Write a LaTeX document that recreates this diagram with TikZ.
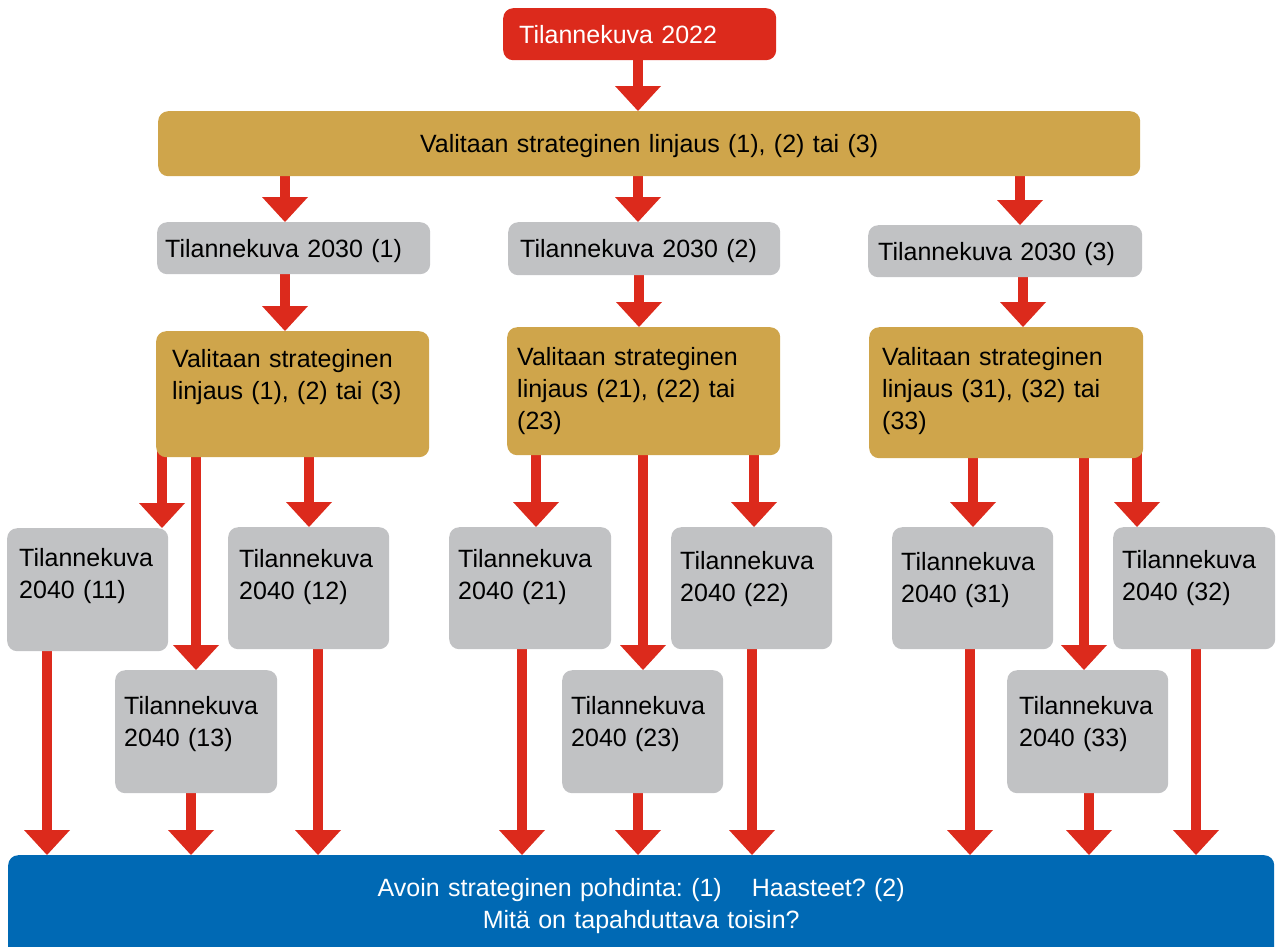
\documentclass[tikz,border=0pt]{standalone}
\usepackage{fontspec}
\setmainfont{Liberation Sans}
\usetikzlibrary{arrows.meta}
\pgfdeclarelayer{bg}
\pgfsetlayers{bg,main}
\definecolor{cred}{HTML}{DC2A1C}
\definecolor{cgold}{HTML}{CFA54B}
\definecolor{cgray}{HTML}{C1C2C4}
\definecolor{cblue}{HTML}{0069B4}
\frenchspacing
\newcommand\diagfont{\fontsize{25pt}{32pt}\selectfont\hyphenpenalty=10000\frenchspacing }
\begin{document}
\begin{tikzpicture}[x=1pt,y=-1pt,
  box/.style={anchor=north west, rounded corners=10pt, inner ysep=0pt, align=left, font=\diagfont, text=black},
  gold/.style={box, fill=cgold},
  gray/.style={box, fill=cgray},
  arr/.style={draw=cred, line width=10pt, line cap=butt, -{Triangle[width=46pt,length=25pt,line width=0pt]}}]
\useasboundingbox (0,0) rectangle (1276,946);
\clip (0,0) rectangle (1276,946);

\node[box, fill=cred, text=white, text width=241pt, inner xsep=16pt, text height=35pt, text depth=17pt] (red) at (503,8) {Tilannekuva 2022};
\node[gold, align=center, text width=962pt, inner xsep=10pt, text height=41pt, text depth=24pt] (bar) at (158,111) {Valitaan strateginen linjaus (1), (2) tai (3)};

\node[gray, text width=257pt, inner xsep=8pt, text height=35pt, text depth=17pt] (c1) at (157,222) {Tilannekuva 2030 (1)};
\node[gray, text width=248pt, inner xsep=12pt, text height=35pt, text depth=18pt] (c2) at (508,222) {Tilannekuva 2030 (2)};
\node[gray, text width=254pt, inner xsep=10pt, text height=35pt, text depth=17pt] (c3) at (868,225) {Tilannekuva 2030 (3)};

\node[gold, text width=241pt, inner xsep=16pt, text height=36pt, text depth=90pt] (g1) at (156,331) {Valitaan strateginen\\linjaus (1), (2) tai (3)};
\node[gold, text width=253pt, inner xsep=10pt, text height=38pt, text depth=90pt] (g2) at (507,327) {Valitaan strateginen\\linjaus (21), (22) tai\\(23)};
\node[gold, text width=248pt, inner xsep=13pt, text height=38pt, text depth=93pt] (g3) at (869,327) {Valitaan strateginen\\linjaus (31), (32) tai\\(33)};

\node[gray, text width=137pt, inner xsep=12pt, text height=38pt, text depth=85pt] (b11) at (7,528) {Tilannekuva\\2040 (11)};
\node[gray, text width=139pt, inner xsep=11pt, text height=40pt, text depth=82pt] (b12) at (228,527) {Tilannekuva\\2040 (12)};
\node[gray, text width=144pt, inner xsep=9pt, text height=44pt, text depth=79pt] (b13) at (115,670) {Tilannekuva\\2040 (13)};
\node[gray, text width=144pt, inner xsep=9pt, text height=40pt, text depth=82pt] (b21) at (449,527) {Tilannekuva\\2040 (21)};
\node[gray, text width=143pt, inner xsep=9pt, text height=42pt, text depth=80pt] (b22) at (671,527) {Tilannekuva\\2040 (22)};
\node[gray, text width=143pt, inner xsep=9pt, text height=44pt, text depth=79pt] (b23) at (562,670) {Tilannekuva\\2040 (23)};
\node[gray, text width=143pt, inner xsep=9pt, text height=43pt, text depth=79pt] (b31) at (892,527) {Tilannekuva\\2040 (31)};
\node[gray, text width=144pt, inner xsep=9pt, text height=41pt, text depth=81pt] (b32) at (1113,527) {Tilannekuva\\2040 (32)};
\node[gray, text width=137pt, inner xsep=12pt, text height=44pt, text depth=79pt] (b33) at (1007,670) {Tilannekuva\\2040 (33)};

\node[box, fill=cblue, text=white, align=center, text width=1246pt, inner xsep=10pt, text height=41pt, text depth=79pt] (blue) at (8,855) {Avoin strateginen pohdinta: (1)\hspace{30pt}Haasteet? (2)\\Mitä on tapahduttava toisin?};

\begin{pgfonlayer}{bg}
\draw[arr] (638,0 |- red.center) -- (638,0 |- bar.north);
\draw[arr] (285,0 |- bar.center) -- (285,0 |- c1.north);
\draw[arr] (638,0 |- bar.center) -- (638,0 |- c2.north);
\draw[arr] (1020,0 |- bar.center) -- (1020,0 |- c3.north);
\draw[arr] (285,0 |- c1.center) -- (285,0 |- g1.north);
\draw[arr] (639,0 |- c2.center) -- (639,0 |- g2.north);
\draw[arr] (1023,0 |- c3.center) -- (1023,0 |- g3.north);

\draw[arr] (162,0 |- g1.center) -- (162,0 |- b11.north);
\draw[arr] (196,0 |- g1.center) -- (196,0 |- b13.north);
\draw[arr] (309,0 |- g1.center) -- (309,0 |- b12.north);
\draw[arr] (536,0 |- g2.center) -- (536,0 |- b21.north);
\draw[arr] (643,0 |- g2.center) -- (643,0 |- b23.north);
\draw[arr] (754,0 |- g2.center) -- (754,0 |- b22.north);
\draw[arr] (973,0 |- g3.center) -- (973,0 |- b31.north);
\draw[arr] (1084,0 |- g3.center) -- (1084,0 |- b33.north);
\draw[arr] (1137,0 |- g3.center) -- (1137,0 |- b32.north);

\draw[arr] (47,0 |- b11.center) -- (47,0 |- blue.north);
\draw[arr] (191,0 |- b13.center) -- (191,0 |- blue.north);
\draw[arr] (318,0 |- b12.center) -- (318,0 |- blue.north);
\draw[arr] (522,0 |- b21.center) -- (522,0 |- blue.north);
\draw[arr] (638,0 |- b23.center) -- (638,0 |- blue.north);
\draw[arr] (752,0 |- b22.center) -- (752,0 |- blue.north);
\draw[arr] (970,0 |- b31.center) -- (970,0 |- blue.north);
\draw[arr] (1089,0 |- b33.center) -- (1089,0 |- blue.north);
\draw[arr] (1196,0 |- b32.center) -- (1196,0 |- blue.north);
\end{pgfonlayer}
\end{tikzpicture}
\end{document}
